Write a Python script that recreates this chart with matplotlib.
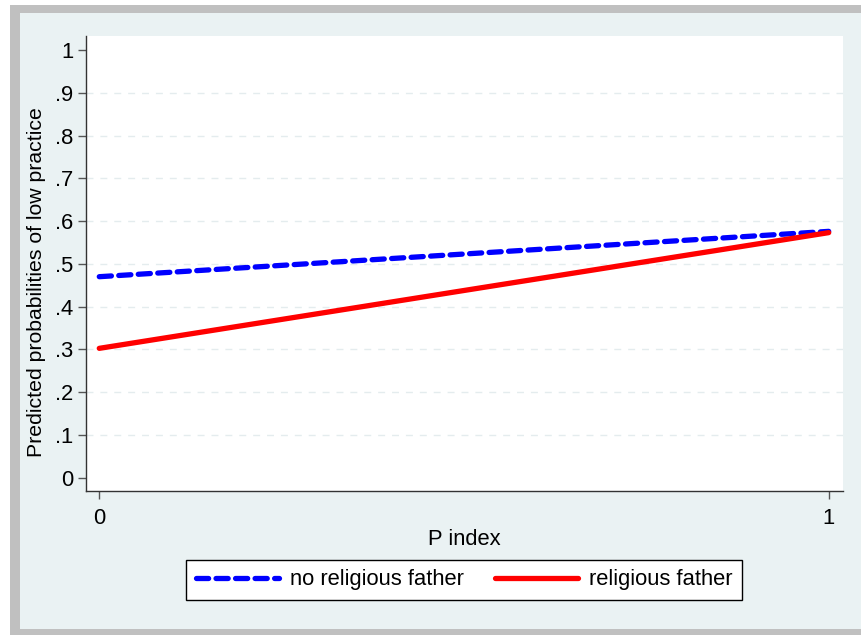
import matplotlib
matplotlib.use("Agg")
import matplotlib.pyplot as plt
from matplotlib.patches import Rectangle
from matplotlib.lines import Line2D

# Data
p_index = [0, 1]
no_religious_father = [0.470, 0.576]
religious_father = [0.3025, 0.573]
y_ticks = [0, 0.1, 0.2, 0.3, 0.4, 0.5, 0.6, 0.7, 0.8, 0.9, 1.0]
y_ticklabels = ["0", ".1", ".2", ".3", ".4", ".5", ".6", ".7", ".8", ".9", "1"]
x_ticks = [0, 1]
x_ticklabels = ["0", "1"]
series_labels = ["no religious father", "religious father"]

plt.rcParams['font.family'] = ['Liberation Sans', 'DejaVu Sans']
FS = 15.8

W, H = 862, 635
fig = plt.figure(figsize=(W / 100, H / 100), dpi=100)
fig.patch.set_facecolor('white')

# Stata-like frame
fig.patches.append(Rectangle((10 / W, 0), 1, (H - 5) / H, transform=fig.transFigure,
                             facecolor='#C0C0C0', edgecolor='none', zorder=-10))
fig.patches.append(Rectangle((20 / W, 6 / H), 1, (629 - 13) / H, transform=fig.transFigure,
                             facecolor='#EAF2F3', edgecolor='none', zorder=-9))

ax = fig.add_axes([86 / W, 1 - 491 / H, (843 - 86) / W, (491 - 36) / H])
ax.set_facecolor('white')

ax.plot(p_index, no_religious_father, color='#0000FF', lw=3.8,
        linestyle=(0, (2.3, 1.4)), dash_capstyle='round', solid_capstyle='round', zorder=3)
ax.plot(p_index, religious_father, color='#FF0000', lw=3.8,
        solid_capstyle='round', zorder=3)

ax.set_xlim(-0.0182, 1.0196)
ax.set_ylim(-0.031, 1.0327)

ax.set_yticks(y_ticks)
ax.set_yticklabels(y_ticklabels)
ax.set_xticks(x_ticks)
ax.set_xticklabels(x_ticklabels)

for t in y_ticks[1:-1]:
    ax.axhline(t, color='#E4ECEE', lw=1, linestyle=(0, (5, 5)), zorder=1)

for s in ['top', 'right']:
    ax.spines[s].set_visible(False)
for s in ['left', 'bottom']:
    ax.spines[s].set_color('#333333')
    ax.spines[s].set_linewidth(1.0)

ax.tick_params(axis='both', direction='out', length=6, width=1, color='#555555',
               labelsize=FS, labelcolor='black', pad=3)
ax.tick_params(axis='x', pad=6)

ax.set_xlabel('P index', fontsize=FS, labelpad=0)
ax.set_ylabel('Predicted probabilities of low practice', fontsize=15.3)
ax.yaxis.set_label_coords(-(86 - 46) / (843 - 86), (491 - 282) / (491 - 36))

handles = [
    Line2D([], [], color='#0000FF', lw=3.8, linestyle=(0, (2.3, 1.4)),
           dash_capstyle='round'),
    Line2D([], [], color='#FF0000', lw=3.8, solid_capstyle='round'),
]
leg = fig.legend(handles, series_labels, ncol=2, loc='center',
                 bbox_to_anchor=(((188 + 740) / 2) / W, 1 - 580 / H),
                 fontsize=FS, frameon=True, fancybox=False, framealpha=1,
                 edgecolor='black', facecolor='white', handlelength=3.8,
                 handletextpad=0.5, columnspacing=1.4, borderpad=0.45,
                 borderaxespad=0)
leg.get_frame().set_linewidth(1.0)

fig.savefig('out.png', dpi=100, facecolor=fig.get_facecolor())
